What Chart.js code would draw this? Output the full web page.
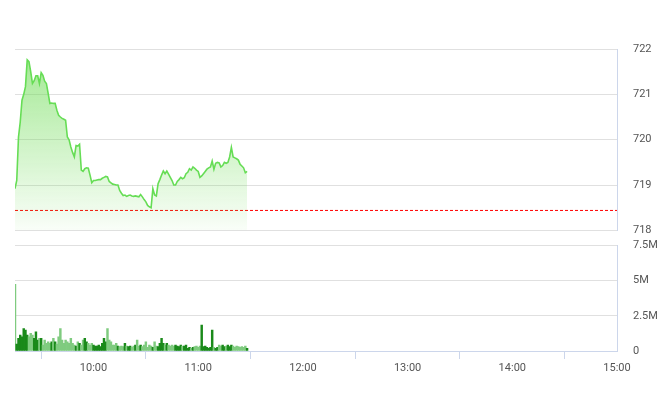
<!DOCTYPE html>
<html>
<head>
<meta charset="utf-8">
<script src="https://cdn.jsdelivr.net/npm/chart.js@4"></script>
<style>
  body { margin: 0; background: #fff; }
  #wrap { position: relative; width: 660px; height: 412px; }
  #priceBox { position: absolute; left: 0; top: 0; width: 660px; height: 253px; }
  #volBox { position: absolute; left: 0; top: 223px; width: 660px; height: 189px; }
</style>
</head>
<body>
<div id="wrap">
  <div id="priceBox"><canvas id="priceChart"></canvas></div>
  <div id="volBox"><canvas id="volumeChart"></canvas></div>
</div>
<script>
// session starts 09:15, one price/volume per minute
const startMinute = 9 * 60 + 15;
const endOffset = 345; // 15:00
const hourTicks = [45, 105, 165, 225, 285, 345];
const refPrice = 718.44;
const priceTicks = [718, 719, 720, 721, 722];
const volumeTicks = [0, 2.5, 5, 7.5];

const prices = [
  718.92, 719.1, 720.06, 720.39, 720.87, 721.0, 721.17, 721.76, 721.72, 721.5,
  721.24, 721.3, 721.41, 721.41, 721.24, 721.48, 721.42, 721.29, 721.24, 721.02,
  720.8, 720.81, 720.8, 720.8, 720.65, 720.54, 720.5, 720.47, 720.45, 720.43,
  720.06, 720.0, 719.84, 719.72, 719.62, 719.87, 719.86, 719.9, 719.33, 719.3,
  719.36, 719.38, 719.37, 719.22, 719.05, 719.1, 719.1, 719.11, 719.12, 719.12,
  719.15, 719.17, 719.19, 719.18, 719.08, 719.05, 719.02, 719.01, 719.0, 719.0,
  718.88, 718.82, 718.77, 718.78, 718.75, 718.77, 718.78, 718.76, 718.75, 718.76,
  718.75, 718.74, 718.79, 718.74, 718.68, 718.63, 718.55, 718.52, 718.5, 718.92,
  718.78, 718.76, 719.03, 719.12, 719.22, 719.31, 719.25, 719.31, 719.24, 719.17,
  719.1, 719.0, 719.0, 719.08, 719.12, 719.17, 719.14, 719.16, 719.25, 719.28,
  719.36, 719.33, 719.4, 719.37, 719.33, 719.3, 719.17, 719.2, 719.25, 719.3,
  719.35, 719.38, 719.4, 719.53, 719.35, 719.48, 719.5, 719.49, 719.4, 719.43,
  719.5, 719.48, 719.5, 719.62, 719.83, 719.62, 719.6, 719.58, 719.55, 719.46,
  719.42, 719.38, 719.27, 719.3
];

// volume in millions of shares
const volumes = [
  4.74, 0.5, 0.9, 1.13, 1.01, 1.6, 1.49, 1.13, 1.01, 1.25,
  1.13, 0.9, 1.37, 0.78, 0.9, 0.9, 0.42, 0.78, 0.54, 0.66,
  0.54, 0.66, 0.9, 0.66, 0.5, 1.01, 1.6, 0.78, 0.54, 0.78,
  0.66, 0.54, 0.9, 0.54, 0.42, 0.35, 0.66, 0.54, 0.42, 0.78,
  0.9, 0.66, 0.54, 0.42, 0.54, 0.42, 0.35, 0.35, 0.42, 0.31,
  0.54, 0.9, 0.66, 1.6, 0.78, 0.66, 0.42, 0.42, 0.54, 0.35,
  0.31, 0.35, 0.31, 0.54, 0.35, 0.31, 0.35, 0.26, 0.35, 0.42,
  0.78, 0.35, 0.42, 0.31, 0.42, 0.66, 0.26, 0.42, 0.35, 0.26,
  0.66, 0.35, 0.31, 0.54, 0.9, 0.54, 0.42, 0.54, 0.42, 0.35,
  0.42, 0.35, 0.42, 0.35, 0.31, 0.42, 0.35, 0.35, 0.42, 0.19,
  0.26, 0.19, 0.26, 0.31, 0.35, 0.26, 0.35, 1.84, 0.31, 0.35,
  0.26, 0.19, 0.26, 1.49, 0.26, 0.19, 0.26, 0.42, 0.35, 0.42,
  0.31, 0.35, 0.42, 0.31, 0.42, 0.35, 0.26, 0.35, 0.31, 0.26,
  0.31, 0.26, 0.35, 0.19
];

const FONT = { family: "Roboto, 'Liberation Sans', sans-serif", size: 11 };
const GRID = "#e0e0e0";
const AXIS = "#ccd6eb";

function fmtTime(offset) {
  const t = startMinute + offset;
  const h = Math.floor(t / 60);
  const m = t % 60;
  return String(h).padStart(2, "0") + ":" + String(m).padStart(2, "0");
}

function fixTicks(values) {
  return (scale) => {
    scale.ticks = values.map((v) => ({ value: v }));
  };
}

const pricePoints = prices.map((p, i) => ({ x: i, y: p }));
const volumePoints = volumes.map((v, i) => ({ x: i, y: v }));
const volumeColors = prices.map((p, i) =>
  i > 0 && p >= prices[i - 1] ? "#1a8a1a" : "#7fcb7f"
);

new Chart(document.getElementById("priceChart"), {
  type: "line",
  data: {
    datasets: [
      {
        data: pricePoints,
        borderColor: "#66dd55",
        borderWidth: 1.6,
        pointRadius: 0,
        tension: 0,
        fill: "start",
        backgroundColor: (ctx) => {
          const area = ctx.chart.chartArea;
          if (!area) return "rgba(120,220,100,0.3)";
          const g = ctx.chart.ctx.createLinearGradient(0, area.top, 0, area.bottom);
          g.addColorStop(0, "rgba(110,220,85,0.65)");
          g.addColorStop(1, "rgba(110,220,85,0.04)");
          return g;
        },
      },
      {
        data: [{ x: 0, y: refPrice }, { x: endOffset, y: refPrice }],
        borderColor: "#ff0000",
        borderWidth: 1,
        borderDash: [3, 2],
        pointRadius: 0,
        fill: false,
      },
    ],
  },
  options: {
    responsive: true,
    maintainAspectRatio: false,
    animation: false,
    layout: { padding: { left: 15, top: 49, bottom: 10, right: 0 } },
    plugins: { legend: { display: false }, tooltip: { enabled: false } },
    scales: {
      x: {
        type: "linear",
        min: 0,
        max: endOffset,
        display: false,
      },
      y: {
        position: "right",
        min: 718,
        max: 722,
        afterBuildTicks: fixTicks(priceTicks),
        afterFit: (s) => { s.width = 43; },
        grid: { color: GRID, drawTicks: false },
        border: { display: true, color: AXIS },
        ticks: { font: FONT, color: "#555", padding: 16 },
      },
    },
  },
});

new Chart(document.getElementById("volumeChart"), {
  type: "bar",
  data: {
    datasets: [
      {
        data: volumePoints,
        backgroundColor: volumeColors,
        barThickness: 1.8,
      },
    ],
  },
  options: {
    responsive: true,
    maintainAspectRatio: false,
    animation: false,
    layout: { padding: { left: 15, top: 5, bottom: 0, right: 0 } },
    plugins: { legend: { display: false }, tooltip: { enabled: false } },
    scales: {
      x: {
        type: "linear",
        min: 0,
        max: endOffset,
        offset: false,
        afterBuildTicks: fixTicks(hourTicks),
        afterFit: (s) => { s.height = 61; },
        grid: { drawOnChartArea: false, color: AXIS, tickLength: 8 },
        border: { display: true, color: AXIS },
        ticks: {
          font: FONT,
          color: "#555",
          padding: 3,
          maxRotation: 0,
          callback: (v) => fmtTime(v),
        },
      },
      y: {
        position: "right",
        min: 0,
        max: 7.5,
        afterBuildTicks: fixTicks(volumeTicks),
        afterFit: (s) => { s.width = 43; },
        grid: { color: GRID, drawTicks: false },
        border: { display: true, color: AXIS },
        ticks: {
          font: FONT,
          color: "#555",
          padding: 16,
          callback: (v) => (v === 0 ? "0" : v + "M"),
        },
      },
    },
  },
});
</script>
</body>
</html>
